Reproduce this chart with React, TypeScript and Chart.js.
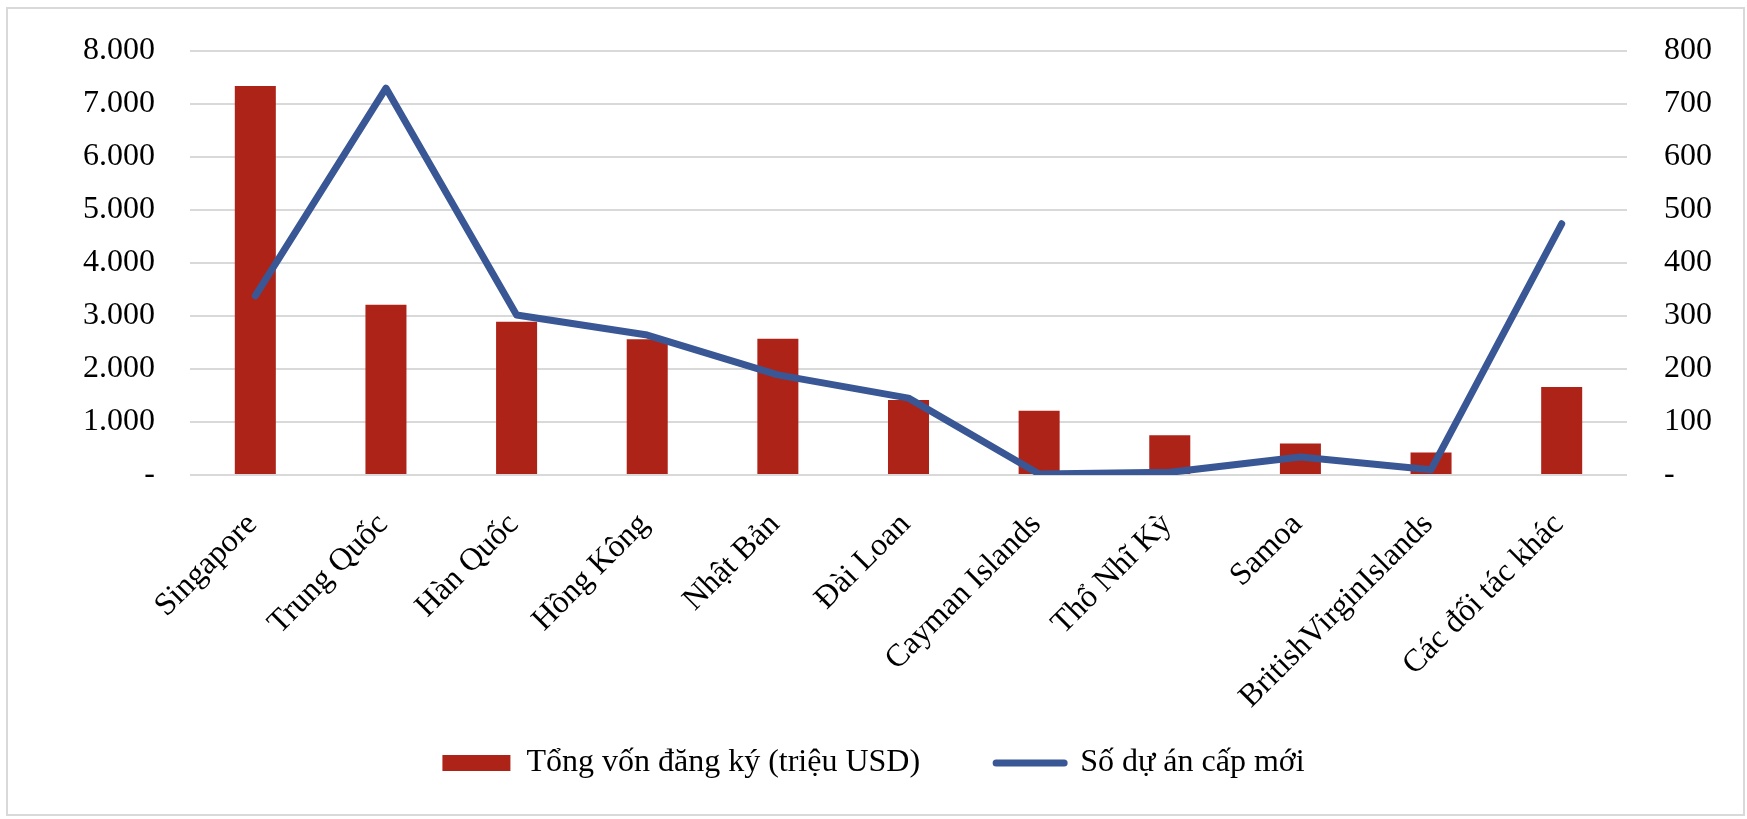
import { useEffect, useRef } from "react";
import { Chart, registerables } from "chart.js";

Chart.register(...registerables);

// Đối tác đầu tư
const CATEGORIES = [
  "Singapore",
  "Trung Quốc",
  "Hàn Quốc",
  "Hồng Kông",
  "Nhật Bản",
  "Đài Loan",
  "Cayman Islands",
  "Thổ Nhĩ Kỳ",
  "Samoa",
  "BritishVirginIslands",
  "Các đối tác khác",
];
// Tổng vốn đăng ký (triệu USD) - trục trái
const CAPITAL = [7340, 3210, 2890, 2560, 2570, 1415, 1210, 750, 595, 425, 1660];
// Số dự án cấp mới - trục phải
const PROJECTS = [338, 730, 302, 264, 189, 145, 2, 5, 34, 10, 474];

const CAPITAL_LABEL = "Tổng vốn đăng ký (triệu USD)";
const PROJECTS_LABEL = "Số dự án cấp mới";

const BAR_COLOR = "#ae2318";
const LINE_COLOR = "#3a5795";
const GRID_COLOR = "#d9d9d9";
const FONT = "'Liberation Serif', 'Times New Roman', serif";

const fmt = (v: number | string) => {
  const n = Number(v);
  if (n === 0) return "-";
  return String(n).replace(/\B(?=(\d{3})+(?!\d))/g, ".");
};

export default function App() {
  const canvasRef = useRef<HTMLCanvasElement>(null);

  useEffect(() => {
    if (!canvasRef.current) return;
    const font = { family: FONT, size: 32 };

    const chart = new Chart(canvasRef.current, {
      type: "bar",
      data: {
        labels: CATEGORIES,
        datasets: [
          {
            type: "bar",
            label: CAPITAL_LABEL,
            data: CAPITAL,
            backgroundColor: BAR_COLOR,
            borderWidth: 0,
            barPercentage: 0.314,
            categoryPercentage: 1,
            pointStyle: "rect",
            order: 1,
            yAxisID: "y",
          },
          {
            type: "line",
            label: PROJECTS_LABEL,
            data: PROJECTS,
            borderColor: LINE_COLOR,
            backgroundColor: LINE_COLOR,
            borderWidth: 7,
            borderCapStyle: "round",
            borderJoinStyle: "round",
            pointRadius: 0,
            pointHoverRadius: 0,
            pointStyle: "line",
            tension: 0,
            order: 0,
            yAxisID: "y1",
          },
        ],
      },
      options: {
        responsive: false,
        animation: false,
        layout: { padding: { top: 51, bottom: 30, left: 0, right: 0 } },
        plugins: {
          tooltip: { enabled: false },
          legend: {
            position: "bottom",
            labels: {
              color: "#000",
              font,
              usePointStyle: true,
              pointStyleWidth: 68,
              boxHeight: 16,
              padding: 20,
              generateLabels: (c) => {
                const items = Chart.defaults.plugins.legend.labels.generateLabels(c);
                items.sort((a, b) => (a.datasetIndex ?? 0) - (b.datasetIndex ?? 0));
                return items.map((it) =>
                  it.datasetIndex === 0
                    ? { ...it, text: it.text + "       " }
                    : { ...it, lineCap: "round", lineWidth: 7, strokeStyle: LINE_COLOR }
                );
              },
            },
          },
        },
        scales: {
          x: {
            grid: { display: false, drawTicks: false },
            border: { display: false },
            ticks: {
              color: "#000",
              font,
              autoSkip: false,
              minRotation: 45,
              maxRotation: 45,
              padding: 31,
              labelOffset: -3,
            },
            afterFit: (s) => {
              s.height = 252;
            },
          },
          y: {
            position: "left",
            min: 0,
            max: 8000,
            grid: { color: GRID_COLOR, lineWidth: 2, drawTicks: false },
            border: { display: false },
            ticks: {
              stepSize: 1000,
              color: "#000",
              font,
              padding: 35,
              callback: (v) => fmt(v),
            },
            afterFit: (s) => {
              s.width = 190;
              // tick padding would otherwise push the plot top down
              s.paddingTop = 0;
              s.paddingBottom = 0;
            },
          },
          y1: {
            position: "right",
            min: 0,
            max: 800,
            grid: { display: false, drawTicks: false },
            border: { display: false },
            ticks: {
              stepSize: 100,
              color: "#000",
              font,
              padding: 37,
              callback: (v) => fmt(v),
            },
            afterFit: (s) => {
              s.width = 120;
              s.paddingTop = 0;
              s.paddingBottom = 0;
            },
          },
        },
      },
    });

    return () => {
      chart.destroy();
    };
  }, []);

  return (
    <div style={{ position: "fixed", left: 0, top: 0, width: 1747, height: 819, background: "#fff" }}>
      <canvas ref={canvasRef} width={1747} height={819} style={{ display: "block" }} />
      <div
        style={{
          position: "absolute",
          left: 6,
          top: 7,
          width: 1739,
          height: 809,
          border: `2px solid ${GRID_COLOR}`,
          boxSizing: "border-box",
          pointerEvents: "none",
        }}
      />
    </div>
  );
}
